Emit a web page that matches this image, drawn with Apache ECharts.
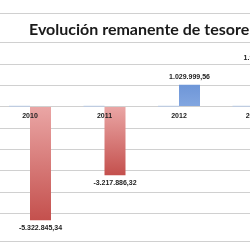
<!DOCTYPE html>
<html><head><meta charset="utf-8">
<script src="https://cdn.jsdelivr.net/npm/echarts@6/dist/echarts.min.js"></script>
<style>html,body{margin:0;padding:0;background:#fff}#c{width:250px;height:250px}</style>
</head><body><div id="c"></div>
<script>
const titleText = 'Evolución remanente de tesorería';
const categories = ['2010', '2011', '2012', '2013'];
const baseValues = [45000, 45000, 45000, 45000];
const remanente = [-5322845.34, -3217886.32, 1029999.56, 1915432.10];
const yMin = -6000000, yMax = 4000000, yInterval = 1000000;

function fmt(v) {
  const neg = v < 0; v = Math.abs(v);
  const parts = v.toFixed(2).split('.');
  const intp = parts[0].replace(/\B(?=(\d{3})+(?!\d))/g, '.');
  return (neg ? '-' : '') + intp + ',' + parts[1];
}
const redGrad = new echarts.graphic.LinearGradient(0, 0, 0, 1, [
  {offset: 0, color: '#eaa6a5'}, {offset: 1, color: '#c4504d'}]);
const blueGrad = new echarts.graphic.LinearGradient(0, 0, 0, 1, [
  {offset: 0, color: '#6e96d8'}, {offset: 1, color: '#82a6e0'}]);

const gridTop = 21.4, gridHeight = 213.3;
const zeroOffset = -gridHeight * (0 - yMin) / (yMax - yMin);

const chart = echarts.init(document.getElementById('c'), null, {renderer: 'canvas'});
chart.setOption({
  backgroundColor: '#fff',
  animation: false,
  title: {
    text: titleText, left: 24, top: 17,
    textStyle: {fontFamily: 'Lato', fontWeight: 'bold', fontSize: 16, color: '#1a1a1a'}
  },
  graphic: [
    {type: 'line', shape: {x1: 0, y1: 13.5, x2: 250, y2: 13.5}, style: {stroke: '#d0d0d0', lineWidth: 1}},
    {type: 'line', shape: {x1: 0, y1: 241.5, x2: 250, y2: 241.5}, style: {stroke: '#d0d0d0', lineWidth: 1}}
  ],
  grid: {left: -7.25, width: 298, top: gridTop, height: gridHeight, containLabel: false, outerBoundsMode: 'none'},
  xAxis: {
    type: 'category', data: categories, position: 'bottom', offset: zeroOffset, z: 5,
    axisLine: {onZero: false, lineStyle: {color: '#d0d0d0', width: 1}},
    axisTick: {show: false},
    axisLabel: {margin: 6, fontFamily: 'Liberation Sans', fontWeight: 'bold', fontSize: 7, color: '#222'}
  },
  yAxis: {
    type: 'value', min: yMin, max: yMax, interval: yInterval,
    axisLabel: {show: false}, axisLine: {show: false}, axisTick: {show: false},
    splitLine: {show: true, showMinLine: false, showMaxLine: false, lineStyle: {color: '#d0d0d0', width: 1}}
  },
  series: [
    {type: 'bar', data: baseValues, barWidth: 21, barGap: '0%', z: 6,
     itemStyle: {color: '#b9cbe6'}},
    {type: 'bar', barWidth: 21, barGap: '0%',
     data: remanente.map(v => ({
       value: v,
       itemStyle: {color: v < 0 ? redGrad : blueGrad},
       label: {show: true, position: v < 0 ? 'bottom' : 'top', distance: 4,
               formatter: p => fmt(p.value),
               fontFamily: 'Liberation Sans', fontWeight: 'bold', fontSize: 7, color: '#222'}
     }))}
  ]
});
</script></body></html>
